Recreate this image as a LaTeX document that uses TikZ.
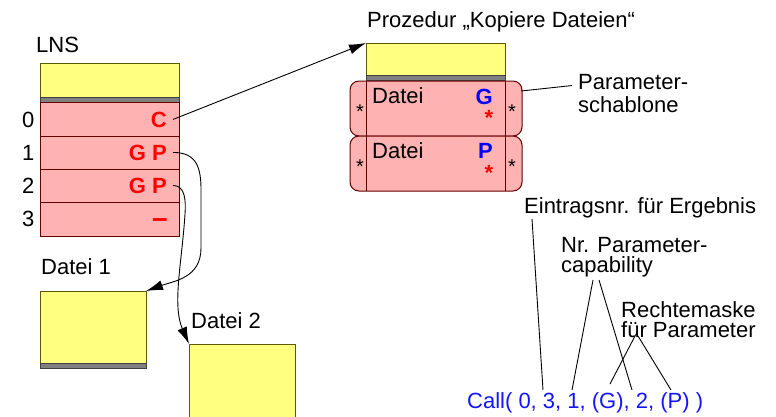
\documentclass[tikz,border=0pt]{standalone}
\usepackage{fontspec}
\setmainfont{Liberation Sans}
\usetikzlibrary{arrows.meta}
\definecolor{yel}{RGB}{255,255,128}
\definecolor{yelb}{RGB}{90,90,0}
\definecolor{pnk}{RGB}{255,178,178}
\definecolor{pnkb}{RGB}{100,0,0}
\definecolor{gry}{RGB}{128,128,128}
\definecolor{callblue}{RGB}{20,20,255}
\tikzset{
  txt/.style={inner sep=0pt, anchor=base west},
  yelbox/.style={fill=yel, draw=yelb, line width=0.9pt},
  band/.style={fill=gry, draw=black!75, line width=0.6pt},
  pinkrow/.style={fill=pnk, draw=pnkb, line width=1pt},
  redlbl/.style={inner sep=0pt, anchor=base east, text=red, font=\fontsize{22}{22}\selectfont\bfseries},
  bluelbl/.style={inner sep=0pt, anchor=base east, text=blue, font=\fontsize{22}{22}\selectfont\bfseries},
  redstar/.style={inner sep=0pt, anchor=north, text=red, font=\fontsize{22}{22}\selectfont\bfseries},
  blackstar/.style={inner sep=0pt, anchor=north, font=\fontsize{20}{20}\selectfont},
  arr/.style={-{Latex[length=17pt,width=10pt]}, line width=0.9pt},
  lbl/.style={line width=0.9pt},
}
\begin{document}
\begin{tikzpicture}[x=1pt, y=-1pt, font=\fontsize{22}{22}\selectfont]
\useasboundingbox (0,0) rectangle (776,416);

% ---------- LNS ----------
\node[txt] (lns) at (36,52) {LNS};
\draw[yelbox] (40,63) rectangle (179,97);
\draw[band] (40,97) rectangle (179,102);
\foreach \a/\b in {102/136,136/169,169/202,202/236}
  \draw[pinkrow] (40,\a) rectangle (179,\b);
\node[txt] (n0) at (22,127) {0};
\node[txt] (n1) at (22,160) {1};
\node[txt] (n2) at (22,193) {2};
\node[txt] (n3) at (22,226) {3};
\node[redlbl] (c) at (167,127) {C};
\node[redlbl] (gp1) at (167,160) {G P};
\node[redlbl] (gp2) at (167,193) {G P};
\node[redlbl, font=\fontsize{28}{28}\selectfont\bfseries] (dash) at (168,227) {–};

% ---------- Datei 1 / Datei 2 ----------
\node[txt] (d1lbl) at (41,274) {Datei 1};
\node[yelbox, anchor=north west, minimum width=106pt, minimum height=72pt, inner sep=0pt, outer sep=0pt] (d1) at (40,291) {};
\draw[band] (40,363) rectangle (146,368);
\node[txt] (d2lbl) at (191,328) {Datei 2};
\node[yelbox, anchor=north west, minimum width=106pt, minimum height=80pt, inner sep=0pt, outer sep=0pt] (d2) at (189,344) {};

% ---------- Prozedur ----------
\node[txt] (ptitle) at (367,27) {Prozedur „Kopiere Dateien“};
\node[yelbox, anchor=north west, minimum width=139pt, minimum height=32pt, inner sep=0pt, outer sep=0pt] (ptop) at (366,43) {};
\draw[band] (366,75) rectangle (505,80);
\foreach \a/\b in {81/136,136/191}{
  \draw[pinkrow, rounded corners=9pt] (350,\a) rectangle (522,\b);
  \draw[pnkb, line width=1pt] (366,\a) -- (366,\b) (505,\a) -- (505,\b);
}
\node[txt] (pd1) at (372,103) {Datei};
\node[bluelbl] (pg) at (493,104) {G};
\node[redstar] (rs1) at (489,110) {*};
\node[blackstar] (bl1) at (360,105) {*};
\node[blackstar] (br1) at (512,105) {*};
\node[txt] (pd2) at (372,158) {Datei};
\node[bluelbl] (pp) at (493,158) {P};
\node[redstar] (rs2) at (489,165) {*};
\node[blackstar] (bl2) at (360,160) {*};
\node[blackstar] (br2) at (512,160) {*};

% Parameterschablone label
\coordinate (psa) at (521,91);
\node[txt] (ps1) at (578,89) {Parameter-};
\node[txt] (ps2) at (578,112) {schablone};
\draw[lbl] (psa) -- ([xshift=-6pt, yshift=-4pt]ps1.west);

% ---------- connectors ----------
\draw[arr] ([xshift=6pt]c.east) -- (ptop.north west);
\draw[arr] ([xshift=6pt]gp1.east) .. controls +(24,0) and +(0,-22) .. (201,190)
   -- (201,248) .. controls +(0,30) and +(28,-10) .. (d1.north east);
\draw[arr] ([xshift=6pt]gp2.east) .. controls +(12,0) and +(1,-14) .. (185,214)
   .. controls (182,262) and (172,305) .. (d2.north west);

% ---------- Call annotation ----------
\node[txt] (ein) at (524,213) {Eintragsnr. für Ergebnis};
\node[txt] (nr1) at (561,252) {Nr. Parameter-};
\node[txt] (nr2) at (561,272) {capability};
\node[txt] (re1) at (621,317) {Rechtemaske};
\node[txt] (re2) at (621,337) {für Parameter};
\node[txt, text=callblue] (call) at (467,408) {Call( 0, 3, 1, (G), 2, (P) )};

\coordinate (e0) at (532,219);  \coordinate (e1) at (543,390);
\coordinate (a0) at (593,280);  \coordinate (a1) at (572,390);
\coordinate (b0) at (599,280);  \coordinate (b1) at (632,390);
\coordinate (r0) at (635,336);  \coordinate (r1) at (610,384);
\coordinate (s0) at (638,336);  \coordinate (s1) at (671,390);
\draw[lbl] (e0) -- (e1);
\draw[lbl] (a0) -- (a1);
\draw[lbl] (b0) -- (b1);
\draw[lbl] (r0) -- (r1);
\draw[lbl] (s0) -- (s1);
\end{tikzpicture}
\end{document}
